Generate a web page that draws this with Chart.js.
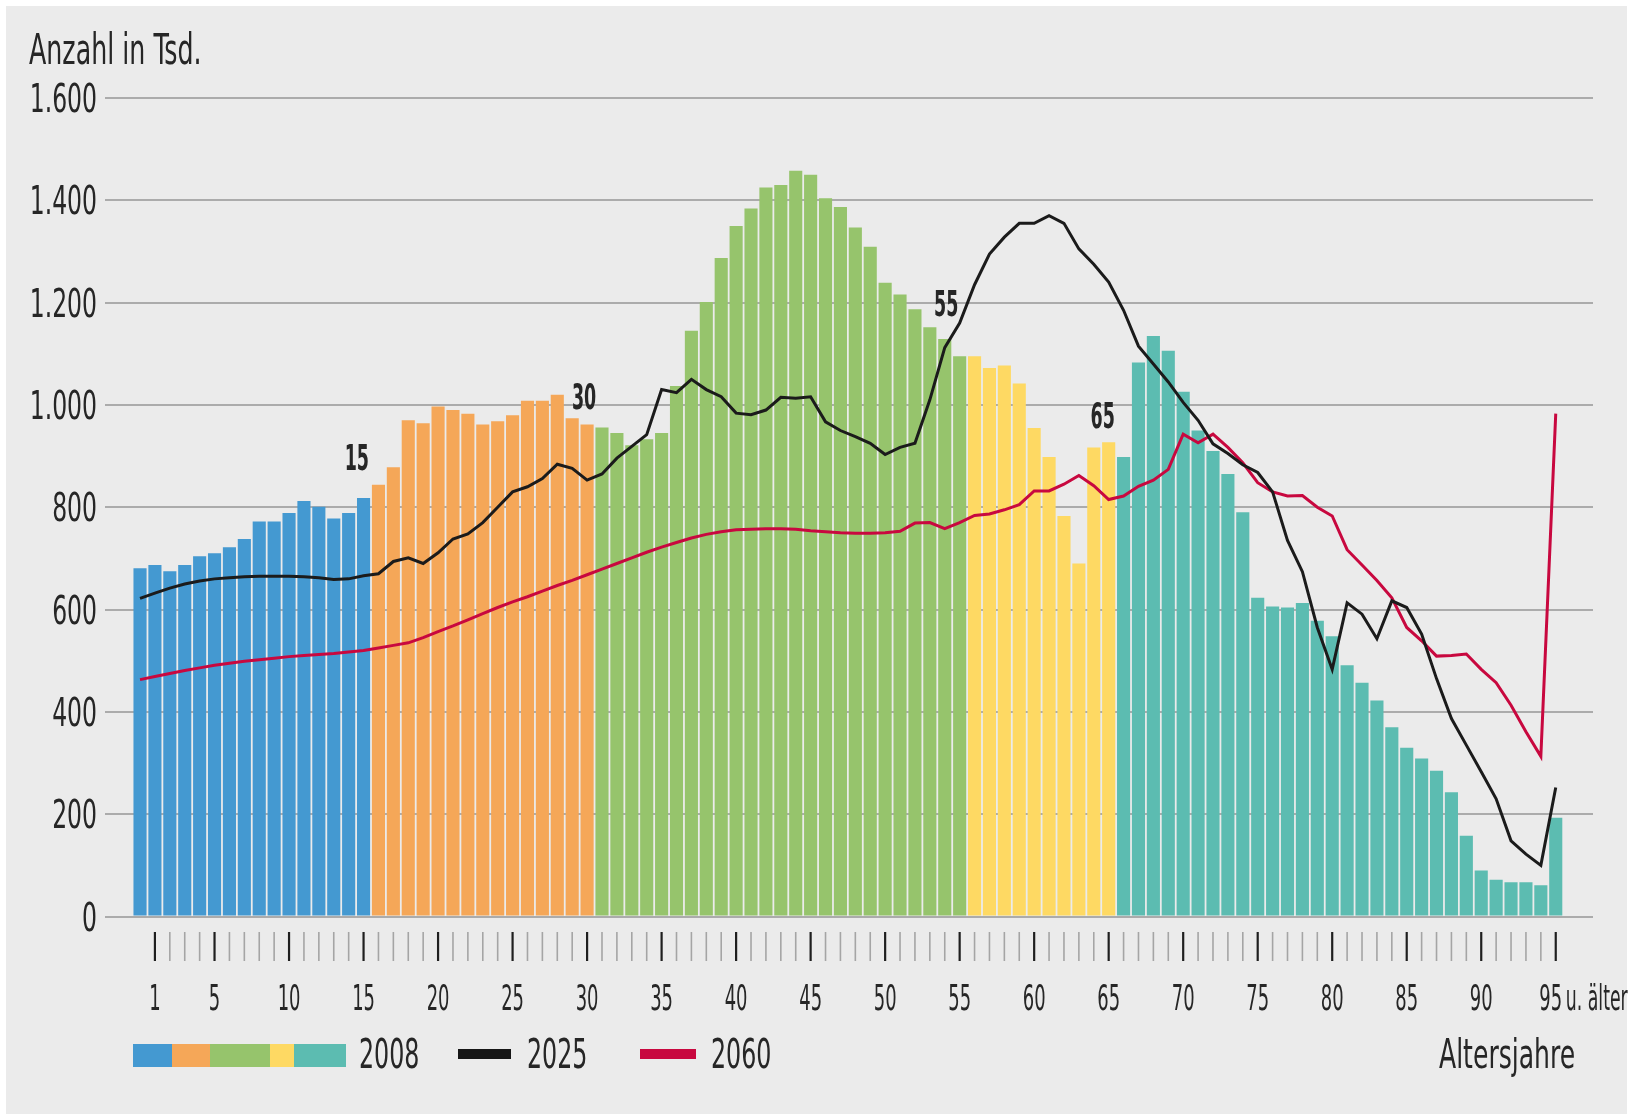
<!DOCTYPE html>
<html lang="de">
<head>
<meta charset="utf-8">
<title>Bevölkerung nach Altersjahren 2008, 2025 und 2060</title>
<script src="https://cdn.jsdelivr.net/npm/chart.js@4.4.1/dist/chart.umd.min.js"></script>
<style>
  html, body { margin: 0; padding: 0; background: #fff; }
  #wrap { position: relative; width: 1633px; height: 1120px; overflow: hidden; }
  #panel { position: absolute; left: 6px; top: 6px; width: 1621px; height: 1108px; background: #ebebeb; }
  canvas { position: absolute; left: 0; top: 0; }
  .txt {
    position: absolute; line-height: 1; white-space: nowrap; color: #262626;
    font-family: "DejaVu Sans Condensed", sans-serif;
    transform-origin: 0 0;
  }
  .sw { position: absolute; }
  #sw2008 { position: absolute; left: 133px; top: 1044px; height: 23px; display: flex; }
  #sw2008 div { height: 23px; }
</style>
</head>
<body>
<div id="wrap">
  <div id="panel"></div>
  <canvas id="chart" width="1633" height="1120"></canvas>

  <div class="txt" style="left:29px; top:29px; font-size:42px; transform:scaleX(0.67)">Anzahl in Tsd.</div>

  <div id="sw2008">
    <div style="width:39px; background:#4499d1"></div>
    <div style="width:38px; background:#f5a758"></div>
    <div style="width:60px; background:#96c46c"></div>
    <div style="width:24px; background:#fed963"></div>
    <div style="width:52px; background:#5cbcb1"></div>
  </div>
  <div class="txt" id="lg0" style="left:359px; top:1034px; font-size:40px; transform:scaleX(0.66)"></div>
  <div class="sw" style="left:458px; top:1049px; width:53px; height:10px; background:#161616"></div>
  <div class="txt" id="lg1" style="left:527px; top:1034px; font-size:40px; transform:scaleX(0.66)"></div>
  <div class="sw" style="left:640px; top:1049px; width:56px; height:10px; background:#c8083f"></div>
  <div class="txt" id="lg2" style="left:711px; top:1034px; font-size:40px; transform:scaleX(0.66)"></div>

  <div class="txt" style="left:1439px; top:1034px; font-size:41px; transform:scaleX(0.68)">Altersjahre</div>
</div>

<script>
// Altersjahre 0 bis 95 (95 = "95 u. älter")
const ages = [0, 1, 2, 3, 4, 5, 6, 7, 8, 9, 10, 11, 12, 13, 14, 15, 16, 17, 18, 19,
  20, 21, 22, 23, 24, 25, 26, 27, 28, 29, 30, 31, 32, 33, 34, 35, 36, 37, 38, 39,
  40, 41, 42, 43, 44, 45, 46, 47, 48, 49, 50, 51, 52, 53, 54, 55, 56, 57, 58, 59,
  60, 61, 62, 63, 64, 65, 66, 67, 68, 69, 70, 71, 72, 73, 74, 75, 76, 77, 78, 79,
  80, 81, 82, 83, 84, 85, 86, 87, 88, 89, 90, 91, 92, 93, 94, 95];

// Anzahl in Tsd.
const pop2008 = [681, 687, 675, 687, 704, 710, 722, 738, 772, 772,
  789, 812, 801, 778, 789, 818, 844, 878, 970, 964,
  997, 990, 983, 962, 968, 980, 1008, 1008, 1020, 974,
  962, 956, 945, 921, 933, 945, 1037, 1145, 1201, 1287,
  1350, 1384, 1425, 1430, 1458, 1450, 1404, 1387, 1347, 1309,
  1239, 1216, 1187, 1152, 1129, 1095, 1095, 1072, 1077, 1042,
  955, 898, 783, 690, 917, 927, 898, 1083, 1135, 1106,
  1026, 950, 910, 865, 790, 623, 606, 604, 613, 578,
  548, 491, 457, 422, 370, 330, 309, 285, 243, 158,
  90, 72, 67, 67, 61, 193];

const pop2025 = [622, 632, 642, 650, 656, 660, 662, 664, 665, 665,
  665, 664, 662, 659, 660, 666, 670, 694, 701, 690,
  711, 738, 748, 770, 800, 830, 840, 856, 884, 876,
  853, 865, 896, 919, 942, 1030, 1024, 1050, 1030, 1016,
  984, 981, 990, 1015, 1013, 1016, 967, 950, 938, 925,
  903, 917, 925, 1010, 1112, 1160, 1235, 1295, 1328, 1355,
  1355, 1370, 1355, 1305, 1275, 1240, 1185, 1115, 1080, 1045,
  1005, 970, 924, 905, 883, 868, 830, 735, 674, 565,
  483, 613, 591, 543, 617, 604, 552, 465, 387, 335,
  283, 230, 148, 122, 100, 252];

const pop2060 = [463, 469, 475, 481, 486, 491, 495, 499, 502, 505,
  508, 510, 512, 514, 517, 520, 525, 530, 535, 545,
  557, 568, 580, 592, 604, 615, 625, 636, 647, 657,
  668, 679, 690, 701, 712, 722, 731, 740, 747, 752,
  756, 757, 758, 758, 757, 754, 752, 750, 749, 749,
  750, 753, 769, 770, 758, 770, 784, 787, 795, 805,
  832, 832, 845, 862, 842, 815, 822, 841, 853, 874,
  943, 926, 943, 917, 887, 848, 830, 822, 823, 800,
  783, 717, 687, 657, 623, 565, 539, 509, 510, 513,
  483, 457, 413, 361, 313, 983];

const seriesNames = ['2008', '2025', '2060'];

// Altersgruppen der Balken 2008 (letztes Alter je Gruppe)
const groupLastAge = [15, 30, 55, 65, 95];
const groupColors = ['#4499d1', '#f5a758', '#96c46c', '#fed963', '#5cbcb1'];

const yTicks = [0, 200, 400, 600, 800, 1000, 1200, 1400, 1600];
const xTickLabels = [1, 5, 10, 15, 20, 25, 30, 35, 40, 45, 50, 55, 60, 65, 70, 75, 80, 85, 90, 95];

// Markierungen der Gruppengrenzen (Alter, Wert in Tsd.)
const boundaryLabels = ['15', '30', '55', '65'];
const boundaryAge = [14.55, 29.8, 54.1, 64.6];
const boundaryValue = [899, 1017, 1199, 980];

const FONT = '"DejaVu Sans Condensed", sans-serif';

document.getElementById('lg0').textContent = seriesNames[0];
document.getElementById('lg1').textContent = seriesNames[1];
document.getElementById('lg2').textContent = seriesNames[2];

function colorForAge(a) {
  return groupColors[groupLastAge.findIndex((last) => a <= last)];
}

function formatDe(v) {
  if (v < 1000) return String(v);
  return Math.floor(v / 1000) + '.' + String(v % 1000).padStart(3, '0');
}

function drawSqueezed(ctx, text, x, y, sx, align) {
  ctx.save();
  ctx.translate(x, y);
  ctx.scale(sx, 1);
  ctx.textAlign = align;
  ctx.fillText(text, 0, 0);
  ctx.restore();
}

const axisTextPlugin = {
  id: 'axisText',
  afterDraw(chart) {
    const { ctx, chartArea, scales: { x, y } } = chart;
    ctx.save();
    ctx.fillStyle = '#262626';
    ctx.textBaseline = 'alphabetic';

    // y-Achse
    ctx.font = '39px ' + FONT;
    yTicks.forEach((v) => {
      drawSqueezed(ctx, formatDe(v), chartArea.left - 8, y.getPixelForValue(v) + 14, 0.67, 'right');
    });

    // Teilstriche unter der Achse
    ages.filter((a) => a >= 1).forEach((a) => {
      const major = xTickLabels.includes(a);
      const px = x.getPixelForValue(a);
      ctx.strokeStyle = major ? '#1f1f1f' : '#a5a5a5';
      ctx.lineWidth = major ? 2.2 : 1.6;
      ctx.beginPath();
      ctx.moveTo(px, chartArea.bottom + 15.5);
      ctx.lineTo(px, chartArea.bottom + 44.5);
      ctx.stroke();
    });

    // x-Beschriftung
    ctx.font = '35px ' + FONT;
    xTickLabels.forEach((a) => {
      const px = x.getPixelForValue(a);
      if (a === 95) {
        drawSqueezed(ctx, '95', px - 5, chartArea.bottom + 93.5, 0.57, 'center');
        drawSqueezed(ctx, 'u. älter', px + 10, chartArea.bottom + 93.5, 0.55, 'left');
      } else {
        drawSqueezed(ctx, String(a), px, chartArea.bottom + 93.5, 0.57, 'center');
      }
    });

    // Gruppengrenzen
    ctx.font = 'bold 36px ' + FONT;
    boundaryLabels.forEach((t, i) => {
      drawSqueezed(ctx, t, x.getPixelForValue(boundaryAge[i]), y.getPixelForValue(boundaryValue[i]) + 13, 0.54, 'center');
    });
    ctx.restore();
  },
};

new Chart(document.getElementById('chart'), {
  type: 'bar',
  data: {
    datasets: [
      {
        type: 'line',
        label: seriesNames[1],
        data: ages.map((a, i) => ({ x: a, y: pop2025[i] })),
        borderColor: '#1b1b1b',
        borderWidth: 3,
        pointRadius: 0,
        tension: 0,
        order: 0,
      },
      {
        type: 'line',
        label: seriesNames[2],
        data: ages.map((a, i) => ({ x: a, y: pop2060[i] })),
        borderColor: '#c8083f',
        borderWidth: 3,
        pointRadius: 0,
        tension: 0,
        order: 1,
      },
      {
        type: 'bar',
        label: seriesNames[0],
        data: ages.map((a, i) => ({ x: a, y: pop2008[i] })),
        backgroundColor: ages.map(colorForAge),
        categoryPercentage: 1,
        barPercentage: 0.88,
        order: 2,
      },
    ],
  },
  options: {
    responsive: false,
    animation: false,
    devicePixelRatio: 1,
    layout: { padding: { top: 98, right: 40, bottom: 203.5, left: 0 } },
    plugins: { legend: { display: false }, tooltip: { enabled: false } },
    scales: {
      x: {
        type: 'linear',
        min: -2.35,
        max: 97.5,
        offset: false,
        display: false,
        grid: { display: false, offset: false },
      },
      y: {
        min: 0,
        max: 1600,
        ticks: { display: false, stepSize: 200 },
        border: { display: false },
        grid: { color: '#ababab', lineWidth: 2, drawTicks: false },
        afterFit(scale) { scale.width = 105; },
      },
    },
  },
  plugins: [axisTextPlugin],
});
</script>
</body>
</html>
